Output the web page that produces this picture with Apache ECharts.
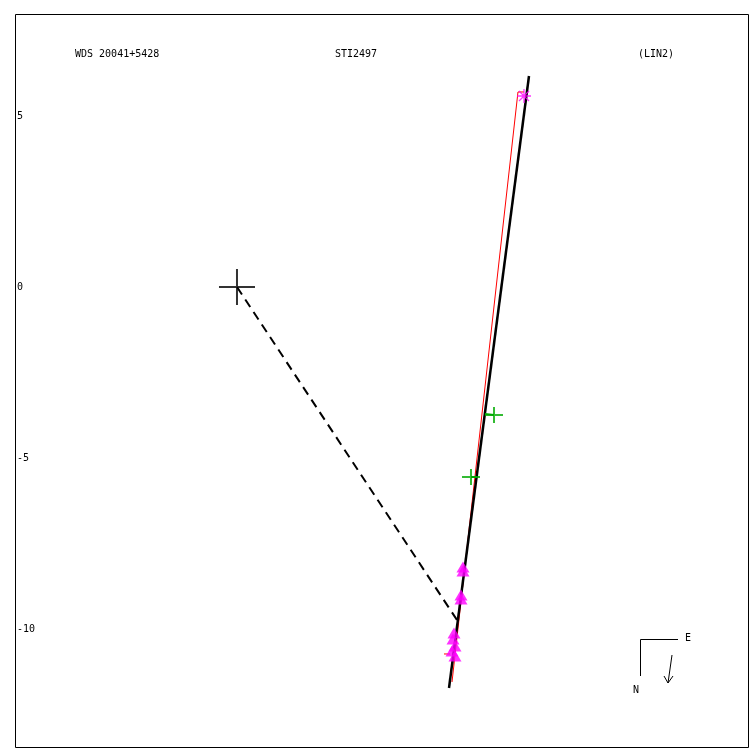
<!DOCTYPE html>
<html>
<head>
<meta charset="utf-8">
<script src="https://cdn.jsdelivr.net/npm/echarts@6/dist/echarts.min.js"></script>
<style>
html,body{margin:0;padding:0;background:#fff;}
#chart{width:750px;height:750px;}
</style>
</head>
<body>
<div id="chart"></div>
<script>
// ---- data (arcsec, relative to primary) ----
const titleLeft = "WDS 20041+5428";
const titleMid = "STI2497";
const titleRight = "(LIN2)";
const yTicks = [5, 0, -5, -10];
const xRange = [-6.491, 14.971];
const yRange = [-13.480, 7.982];
const primary = [[0, 0]];
const orbitLine = [[6.199, -11.725], [8.538, 6.170]];
const ephemLine = [[6.287, -11.550], [8.216, 5.702], [8.392, 5.702]];
const periLine = [[0, 0], [6.433, -9.737]];
const triangles = [
  [6.608, -8.187], [6.608, -8.304], [6.550, -9.006], [6.550, -9.123],
  [6.345, -10.117], [6.316, -10.292], [6.374, -10.497], [6.287, -10.643], [6.374, -10.789]
];
const triOC = [[6.053, -10.731], [6.228, -10.731]];
const crosses = [[7.515, -3.743], [6.842, -5.556]];
const crossOC1 = [[7.515, -3.743], [7.251, -3.713]];
const crossOC2 = [[6.842, -5.556], [7.018, -5.556]];
const firstObs = [[8.392, 5.585]];

const FONT = "DejaVu Sans Mono";
const chart = echarts.init(document.getElementById('chart'), null, {renderer: 'canvas'});

function seg(data, color, width, type) {
  return {type: 'line', data: data, symbol: 'none', silent: true, animation: false,
    lineStyle: {color: color, width: width, type: type || 'solid'}, z: 3};
}

chart.setOption({
  animation: false,
  backgroundColor: '#ffffff',
  grid: {left: 15, top: 14, width: 734, height: 734, show: false},
  xAxis: {type: 'value', min: xRange[0], max: xRange[1], show: false, splitLine: {show: false}},
  yAxis: {
    type: 'value', min: yRange[0], max: yRange[1], splitNumber: 4,
    axisLine: {show: false}, axisTick: {show: false}, splitLine: {show: false},
    axisLabel: {inside: true, margin: 2, color: '#000', fontFamily: FONT, fontSize: 10,
      showMinLabel: false, showMaxLabel: false,
      formatter: function (v) { return yTicks.indexOf(v) >= 0 ? String(v) : ''; }}
  },
  series: [
    seg(periLine, '#000', 2, [9, 6]),
    seg(ephemLine, '#ff0000', 1),
    seg(orbitLine, '#000', 2.5),
    seg(triOC, '#ff0000', 1),
    seg(crossOC1, '#00aa00', 2),
    seg(crossOC2, '#00aa00', 2),
    {type: 'scatter', data: triangles, symbol: 'triangle', symbolSize: [13, 11],
      itemStyle: {color: '#ff00ff'}, z: 4},
    {type: 'scatter', data: crosses, symbol: 'path://M0,7H18V9H0ZM8,0H10V16H8Z', symbolSize: [18, 16],
      itemStyle: {color: '#00aa00'}, z: 4},
    {type: 'scatter', data: firstObs, symbol: 'path://M0,7L14,7M7,0L7,14M2,2L12,12M12,2L2,12', symbolSize: 14,
      itemStyle: {color: 'none', borderColor: '#ff00ff', borderWidth: 1.3}, z: 5},
    {type: 'scatter', data: primary, symbol: 'path://M0,17H36V19H0ZM17,0H19V36H17Z', symbolSize: 36,
      itemStyle: {color: '#000'}, z: 5}
  ],
  graphic: [
    {type: 'rect', shape: {x: 15.5, y: 14.5, width: 733, height: 733}, style: {stroke: '#000', lineWidth: 1, fill: 'none'}, z: 10},
    {type: 'text', left: 75, top: 49, style: {text: titleLeft, font: '10px ' + FONT, fill: '#000'}},
    {type: 'text', left: 335, top: 49, style: {text: titleMid, font: '10px ' + FONT, fill: '#000'}},
    {type: 'text', left: 638, top: 49, style: {text: titleRight, font: '10px ' + FONT, fill: '#000'}},
    {type: 'polyline', shape: {points: [[678, 639.5], [640.5, 639.5], [640.5, 676]]}, style: {stroke: '#000', lineWidth: 1, fill: 'none'}},
    {type: 'text', left: 685, top: 633, style: {text: 'E', font: '10px ' + FONT, fill: '#000'}},
    {type: 'text', left: 633, top: 685, style: {text: 'N', font: '10px ' + FONT, fill: '#000'}},
    {type: 'line', shape: {x1: 672, y1: 655, x2: 668, y2: 683}, style: {stroke: '#000', lineWidth: 1}},
    {type: 'polyline', shape: {points: [[664, 676], [668, 683], [673, 676]]}, style: {stroke: '#000', lineWidth: 1, fill: 'none'}}
  ]
});
</script>
</body>
</html>
